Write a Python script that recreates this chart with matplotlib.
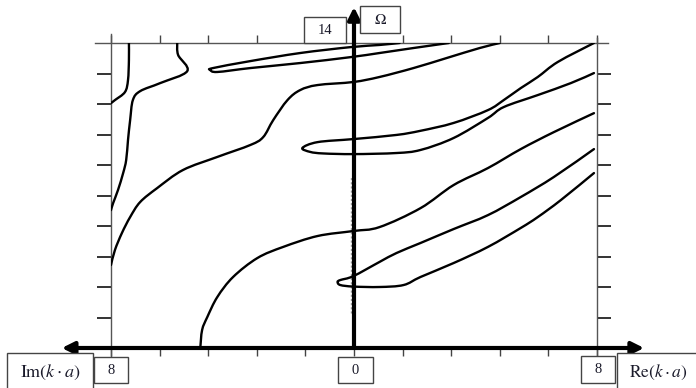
import matplotlib
matplotlib.use("Agg")
import numpy as np
import matplotlib.pyplot as plt
from matplotlib.patches import Rectangle, PathPatch
from matplotlib.path import Path

plt.rcParams["mathtext.fontset"] = "stix"
plt.rcParams["font.family"] = ["Liberation Serif", "DejaVu Serif"]

# Dispersion branches Ω(k·a): x > 0 holds Re(k·a), x < 0 holds -Im(k·a)
top_loop_x = [3.12, 1.96, 0.84, -0.12, -1.77, -3.41, -4.50, -4.73, -4.64, -3.41, -1.77, -0.12, 0.84, 1.50]
top_loop_y = [14.0, 13.77, 13.54, 13.35, 13.08, 12.85, 12.67, 12.76, 12.85, 13.17, 13.54, 13.81, 13.91, 14.0]

branch_c_x = [4.80, 4.14, 3.05, 1.96, 0.84, -0.02, -1.20, -1.77, -2.19, -2.66, -2.99, -3.41, -4.50,
              -5.63, -6.48, -7.04, -7.37, -7.64, -7.87, -8.0]
branch_c_y = [14.0, 13.77, 13.31, 12.85, 12.44, 12.21, 12.07, 11.84, 11.38, 10.46, 9.68, 9.32, 8.77,
              8.17, 7.34, 6.70, 6.01, 5.28, 4.50, 3.81]

branch_d_x = [-5.82, -5.79, -5.49, -6.38, -7.04, -7.28, -7.37, -7.44, -7.50, -7.60, -7.77, -7.93, -8.0]
branch_d_y = [14.0, 13.45, 12.71, 12.16, 11.79, 11.38, 10.46, 9.55, 8.63, 8.03, 7.25, 6.65, 6.33]

branch_e_x = [-7.41, -7.41, -7.44, -7.54, -7.87, -8.0]
branch_e_y = [14.0, 13.22, 12.30, 11.75, 11.38, 11.24]

mid_loop_x = [7.90, 6.71, 6.05, 5.49, 4.93, 4.41, 3.28, 2.19, 1.40, -0.02, -1.20, -1.70, -1.44, -1.01,
              -0.02, 1.40, 2.19, 3.28, 4.41, 4.93, 6.05, 7.14, 7.90]
mid_loop_y = [14.0, 13.13, 12.44, 11.93, 11.38, 10.92, 10.33, 9.97, 9.78, 9.59, 9.45, 9.18, 9.00, 8.93,
              8.90, 8.95, 9.09, 9.64, 10.56, 11.06, 11.61, 12.16, 12.62]

branch_a_x = [-5.06, -5.00, -4.83, -4.50, -3.98, -3.18, -2.33, -1.20, -0.02, 0.84, 2.19, 3.28, 4.41,
              5.49, 6.58, 7.90]
branch_a_y = [0.0, 0.83, 1.42, 2.34, 3.26, 4.13, 4.64, 5.14, 5.37, 5.55, 6.42, 7.48, 8.26,
              9.13, 9.91, 10.78]

low_loop_x = [7.90, 6.58, 5.49, 4.41, 3.28, 2.19, 1.40, 0.84, -0.02, -0.45, -0.54, -0.45, -0.02,
              0.84, 1.63, 2.19, 3.28, 4.41, 5.49, 6.05, 6.81, 7.90]
low_loop_y = [9.13, 7.85, 6.93, 6.10, 5.46, 4.82, 4.36, 3.95, 3.30, 3.12, 3.03, 2.89, 2.82,
              2.80, 2.89, 3.26, 3.90, 4.64, 5.51, 6.01, 6.79, 8.03]

branches = [
    (top_loop_x, top_loop_y),
    (branch_c_x, branch_c_y),
    (branch_d_x, branch_d_y),
    (branch_e_x, branch_e_y),
    (mid_loop_x, mid_loop_y),
    (branch_a_x, branch_a_y),
    (low_loop_x, low_loop_y),
]

x_ticks = [-8, -6.4, -4.8, -3.2, -1.6, 0, 1.6, 3.2, 4.8, 6.4, 8]
y_ticks = [1.4, 2.8, 4.2, 5.6, 7.0, 8.4, 9.8, 11.2, 12.6]


def smooth_path(xs, ys):
    """Cubic Bezier path passing through every point (Catmull-Rom tangents)."""
    p = np.column_stack([xs, ys]).astype(float)
    ext = np.vstack([p[0], p, p[-1]])
    verts = [p[0]]
    codes = [Path.MOVETO]
    for i in range(1, len(ext) - 2):
        p0, p1, p2, p3 = ext[i - 1], ext[i], ext[i + 1], ext[i + 2]
        verts += [p1 + (p2 - p0) / 6.0, p2 - (p3 - p1) / 6.0, p2]
        codes += [Path.CURVE4] * 3
    return Path(verts, codes)


W, H = 696, 388
fig = plt.figure(figsize=(W / 100, H / 100), dpi=100)
ax = fig.add_axes([111 / W, 40 / H, 486 / W, 305 / H])
ax.set_xlim(-8, 8)
ax.set_ylim(0, 14)
for s in ax.spines.values():
    s.set_visible(False)

frame_kw = dict(color="#555555", lw=1.0, transform=ax.transAxes, clip_on=False)
ax.plot([-0.033, 1.023], [1.0, 1.0], **frame_kw)
ax.plot([0.0, 0.0], [-0.03, 1.03], **frame_kw)
ax.plot([1.0, 1.0], [-0.03, 1.017], **frame_kw)

ax.set_xticks(x_ticks)
ax.set_yticks(y_ticks)
ax.tick_params(axis="x", which="both", bottom=True, top=True, direction="out",
               length=6, width=1.0, color="#444444", labelbottom=False, labeltop=False)
ax.tick_params(axis="y", which="both", left=True, right=True, direction="out",
               length=10, width=1.4, color="#333333", labelleft=False, labelright=False)

for bx, by in branches:
    ax.add_patch(PathPatch(smooth_path(bx, by), facecolor="none", edgecolor="black",
                           lw=1.7, joinstyle="round", capstyle="round", zorder=3))

# faint dashed trace just left of the Ω axis
ax.plot([-0.1, -0.1], [1.6, 7.85], color="#999999", lw=1.0, ls=(0, (1.5, 1.5)), zorder=2)

arrow_kw = dict(lw=3, color="black", shrinkA=0, shrinkB=0, mutation_scale=18)
ax.annotate("", xy=(9.55, 0), xytext=(-9.62, 0),
            arrowprops=dict(arrowstyle="<|-|>", **arrow_kw), annotation_clip=False, zorder=5)
ax.annotate("", xy=(0, 15.65), xytext=(0, 0),
            arrowprops=dict(arrowstyle="-|>", **arrow_kw), annotation_clip=False, zorder=5)


def boxed(x0, y0, x1, y1, text, size=10.5):
    rect = Rectangle((x0 / W, 1 - y1 / H), (x1 - x0) / W, (y1 - y0) / H,
                     transform=fig.transFigure, facecolor="white",
                     edgecolor="#444444", lw=1.0, zorder=10)
    fig.add_artist(rect)
    fig.text((x0 + x1) / 2 / W, 1 - (y0 + y1) / 2 / H, text, ha="center", va="center",
             fontsize=size, color="#1a1a2a", zorder=11)


boxed(304, 17, 346, 43, "14")
boxed(360, 6, 400, 33, r"$\Omega$", size=11)
boxed(7, 353, 93, 392, r"$\mathrm{Im}\left(k\cdot a\right)$", size=13)
boxed(94, 357, 128, 383, "8")
boxed(338, 357, 373, 383, "0")
boxed(581, 356, 615, 383, "8")
boxed(617, 353, 700, 392, r"$\mathrm{Re}\left(k\cdot a\right)$", size=12.5)

fig.savefig("out.png", dpi=100)
